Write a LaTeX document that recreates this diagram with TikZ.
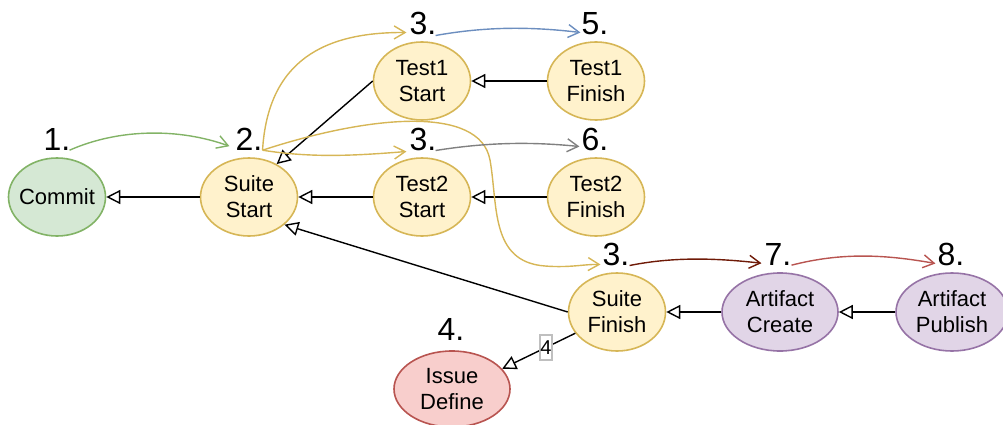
\documentclass[tikz,border=0pt]{standalone}
\usepackage{fontspec}
\setmainfont{Liberation Sans}
\usetikzlibrary{shapes.geometric,arrows.meta}
\definecolor{gfill}{HTML}{D5E8D4}
\definecolor{gline}{HTML}{82B366}
\definecolor{yfill}{HTML}{FFF2CC}
\definecolor{yline}{HTML}{D6B656}
\definecolor{rfill}{HTML}{F8CECC}
\definecolor{rline}{HTML}{B85450}
\definecolor{pfill}{HTML}{E1D5E7}
\definecolor{pline}{HTML}{9673A6}
\definecolor{bline}{HTML}{6C8EBF}
\definecolor{kline}{HTML}{808080}
\definecolor{brline}{HTML}{6F1A07}
\begin{document}
\begin{tikzpicture}[x=1pt,y=-1pt,
  state/.style={ellipse, draw, line width=1.6pt, inner sep=0pt, align=center,
    minimum width=97pt, minimum height=78pt, font=\fontsize{22}{26}\selectfont},
  gstate/.style={state, draw=gline, fill=gfill},
  ystate/.style={state, draw=yline, fill=yfill},
  rstate/.style={state, draw=rline, fill=rfill},
  pstate/.style={state, draw=pline, fill=pfill},
  lbl/.style={font=\fontsize{32}{32}\selectfont, anchor=base, inner sep=0pt},
  link/.style={line width=1.4pt, -{Triangle[open,length=14pt,width=14pt]}},
  cur/.style={line width=1.4pt, -{Straight Barb[length=11pt,width=13pt]}},
  elbl/.style={draw=black!25, fill=white, inner sep=0pt, minimum width=12pt,
    minimum height=25pt, font=\fontsize{20}{20}\selectfont}
]
\useasboundingbox (0,0) rectangle (1003,425);

% nodes
\node[gstate, inner xsep=-7pt] (commit) at (57,197) {Commit};
\node[ystate] (ss) at (249,197) {Suite\\Start};
\node[ystate] (t1s) at (422,81) {Test1\\Start};
\node[ystate] (t1f) at (596,81) {Test1\\Finish};
\node[ystate] (t2s) at (422,197) {Test2\\Start};
\node[ystate] (t2f) at (596,197) {Test2\\Finish};
\node[ystate] (sf) at (617,312) {Suite\\Finish};
\node[rstate, minimum width=116pt, minimum height=76pt] (id) at (452,389) {Issue\\Define};
\node[pstate, minimum width=116pt] (ac) at (780,312) {Artifact\\Create};
\node[pstate, minimum width=112pt] (ap) at (952,312) {Artifact\\Publish};

% step labels
\node[lbl] (l1) at (57,150) {1.};
\node[lbl] (l2) at (249,150) {2.};
\node[lbl] (l3a) at (423,35) {3.};
\node[lbl] (l5) at (595,35) {5.};
\node[lbl] (l3b) at (423,150) {3.};
\node[lbl] (l6) at (595,150) {6.};
\node[lbl] (l3c) at (616,265) {3.};
\node[lbl] (l7) at (778,265) {7.};
\node[lbl] (l8) at (951,265) {8.};
\node[lbl] (l4) at (451,340) {4.};

% black dependency edges
\draw[link] (ss.west) -- (commit.east);
\draw[link] (t2s.west) -- (ss.east);
\draw[link] (t1f.west) -- (t1s.east);
\draw[link] (t2f.west) -- (t2s.east);
\draw[link] (t1s.west) -- (ss.50);
\draw[link] (sf.west) -- (ss.-38);
\draw[link] (sf.207) -- node[elbl, pos=0.4] (e4) {4} (id.22);
\draw[link] (ac.west) -- (sf.east);
\draw[link] (ap.west) -- (ac.east);

% coloured order curves
\draw[cur, draw=gline] ([xshift=-1pt]l1.south east) .. controls +(50,-22) and +(-50,-18) .. ([shift={(-6pt,4pt)}]l2.south west);
\draw[cur, draw=yline] (l2.south east) .. controls (268,60) and (325,32) .. ([shift={(-3pt,3pt)}]l3a.south west);
\draw[cur, draw=yline] (l2.south east) .. controls +(50,8) and +(-50,4) .. ([shift={(-3pt,-1pt)}]l3b.south west);
\draw[cur, draw=yline] (l2.south east) .. controls (370,115) and (480,105) .. (490,160)
   .. controls (498,205) and (490,262) .. (545,266)
   .. controls (570,268) and (585,264) .. ([shift={(-2pt,1pt)}]l3c.south west);
\draw[cur, draw=bline] ([xshift=-1pt]l3a.south east) .. controls +(50,-9) and +(-50,-6) .. ([shift={(-1pt,3pt)}]l5.south west);
\draw[cur, draw=kline] ([xshift=-1pt]l3b.south east) .. controls +(50,-8) and +(-50,-5) .. ([shift={(-2pt,4pt)}]l6.south west);
\draw[cur, draw=brline] (l3c.south east) .. controls +(45,-9) and +(-45,-5) .. ([shift={(-3pt,2pt)}]l7.south west);
\draw[cur, draw=rline] (l7.south east) .. controls +(50,-13) and +(-50,-9) .. ([shift={(-2pt,2pt)}]l8.south west);
\end{tikzpicture}
\end{document}
